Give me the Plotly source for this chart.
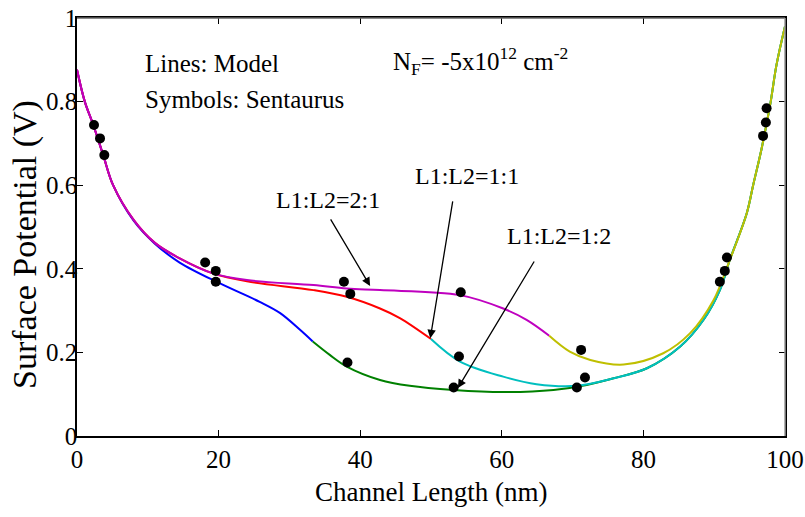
import plotly.graph_objects as go

# ---- data ----
# L1:L2 = 1:2  (blue then green)
blue_x = [0, 1.1, 2.3, 3.7, 5.1, 8.0, 11.0, 14.5, 20.2, 25.8, 28.7, 31.5, 33.3]
blue_y = [0.876, 0.80, 0.744, 0.672, 0.60, 0.515, 0.460, 0.415, 0.365, 0.321, 0.294, 0.254, 0.226]
green_x = [33.3, 35.7, 38.1, 42.8, 47.0, 53.2, 60.2, 67.3, 72.0, 75.8, 80.5, 85.2, 88.5, 90.8, 92.2, 94.6, 95.5, 96.7, 97.9, 98.8, 100]
green_y = [0.226, 0.194, 0.166, 0.134, 0.120, 0.110, 0.105, 0.110, 0.122, 0.138, 0.162, 0.214, 0.278, 0.349, 0.421, 0.533, 0.60, 0.688, 0.792, 0.888, 0.98]

# L1:L2 = 1:1  (red then cyan)
red_x = [0, 1.1, 2.3, 3.7, 5.1, 8.0, 11.0, 14.5, 19.2, 24.0, 33.4, 38.1, 42.8, 45.6, 50.0]
red_y = [0.876, 0.80, 0.744, 0.672, 0.60, 0.517, 0.462, 0.425, 0.389, 0.370, 0.349, 0.333, 0.305, 0.282, 0.232]
cyan_x = [50.0, 54.1, 60.2, 64.9, 70.6, 75.8, 80.5, 85.2, 88.5, 90.8, 92.2, 94.6, 95.5, 96.7, 97.9, 98.8, 100]
cyan_y = [0.232, 0.178, 0.142, 0.124, 0.120, 0.138, 0.162, 0.214, 0.278, 0.349, 0.421, 0.533, 0.60, 0.688, 0.792, 0.888, 0.98]

# L1:L2 = 2:1  (magenta then yellow)
mag_x = [0, 1.1, 2.3, 3.7, 5.1, 8.0, 11.0, 14.5, 19.2, 24.0, 33.4, 38.1, 42.8, 54.1, 60.2, 63.5, 66.7]
mag_y = [0.876, 0.80, 0.744, 0.672, 0.60, 0.517, 0.462, 0.425, 0.389, 0.373, 0.361, 0.353, 0.349, 0.337, 0.305, 0.278, 0.240]
yel_x = [66.7, 69.6, 72.5, 77.2, 82.8, 86.6, 89.9, 92.2, 94.6, 95.5, 96.7, 97.9, 98.8, 100]
yel_y = [0.240, 0.202, 0.182, 0.171, 0.198, 0.246, 0.325, 0.421, 0.533, 0.60, 0.688, 0.792, 0.888, 0.98]

# Sentaurus symbols
sim_x = [2.4, 3.25, 3.86, 18.1, 19.6, 19.6, 37.7, 38.6, 38.2, 54.2, 53.95, 53.2,
         71.2, 71.75, 70.6, 91.8, 91.5, 90.8, 97.4, 97.3, 96.9]
sim_y = [0.744, 0.712, 0.672, 0.415, 0.395, 0.369, 0.369, 0.340, 0.176, 0.344, 0.190, 0.116,
         0.206, 0.140, 0.116, 0.427, 0.395, 0.369, 0.784, 0.750, 0.718]

x_ticks = [0, 20, 40, 60, 80, 100]
y_ticks = [0, 0.2, 0.4, 0.6, 0.8, 1]

FONT = "Liberation Serif, Times New Roman, Times, serif"

fig = go.Figure()
segments = [
    (blue_x, blue_y, "rgb(0,0,255)"),
    (green_x, green_y, "rgb(0,128,0)"),
    (red_x, red_y, "rgb(255,0,0)"),
    (cyan_x, cyan_y, "rgb(0,191,191)"),
    (mag_x, mag_y, "rgb(191,0,191)"),
    (yel_x, yel_y, "rgb(191,191,0)"),
]
for sx, sy, col in segments:
    fig.add_trace(go.Scatter(x=sx, y=sy, mode="lines",
                             line=dict(color=col, width=2, shape="spline", smoothing=1.0),
                             showlegend=False, hoverinfo="skip"))

fig.add_trace(go.Scatter(x=sim_x, y=sim_y, mode="markers",
                         marker=dict(color="black", size=10, symbol="circle"),
                         showlegend=False))

annotations = [
    dict(x=9.3, y=0.892, text="Lines: Model", xanchor="left", yanchor="middle",
         showarrow=False, font=dict(size=25)),
    dict(x=9.3, y=0.804, text="Symbols: Sentaurus", xanchor="left", yanchor="middle",
         showarrow=False, font=dict(size=25)),
    dict(x=44.4, y=0.897, text="N<sub>F</sub>= -5x10<sup>12</sup> cm<sup>-2</sup>",
         xanchor="left", yanchor="middle", showarrow=False, font=dict(size=25)),
    dict(x=35.5, y=0.565, text="L1:L2=2:1", showarrow=False, font=dict(size=24)),
    dict(x=55.1, y=0.622, text="L1:L2=1:1", showarrow=False, font=dict(size=24)),
    dict(x=68.1, y=0.478, text="L1:L2=1:2", showarrow=False, font=dict(size=24)),
    dict(x=0.5, y=-0.134, xref="paper", yref="paper", text="Channel Length (nm)",
         showarrow=False, xanchor="center", yanchor="middle", font=dict(size=27)),
    dict(x=-0.0734, y=0.457, xref="paper", yref="paper", text="Surface Potential (V)",
         showarrow=False, xanchor="center", yanchor="middle", textangle=-90,
         font=dict(size=34)),
]
arrows = [
    (41.4, 0.359, 35.7, 0.522),
    (49.9, 0.234, 53.1, 0.565),
    (53.8, 0.115, 64.7, 0.421),
]
for tx, ty, ax, ay in arrows:
    annotations.append(dict(x=tx, y=ty, ax=ax, ay=ay, xref="x", yref="y",
                            axref="x", ayref="y", text="", showarrow=True,
                            arrowhead=2, arrowsize=1.3, arrowwidth=1.3,
                            arrowcolor="black"))

fig.update_layout(
    width=805, height=517,
    margin=dict(l=77, r=20, t=18, b=81, autoexpand=False),
    paper_bgcolor="white", plot_bgcolor="white",
    font=dict(family=FONT, color="black"),
    annotations=annotations,
    xaxis=dict(range=[0, 100], tickvals=x_ticks, ticktext=[str(v) for v in x_ticks],
               ticks="inside", ticklen=6, tickcolor="black", mirror="ticks",
               showline=True, linecolor="black", linewidth=1.5, showgrid=False,
               zeroline=False, tickfont=dict(size=25), automargin=False,
               ticklabelstandoff=0, ticklabeloverflow="allow"),
    yaxis=dict(range=[0, 1], tickvals=y_ticks, ticktext=["0", "0.2", "0.4", "0.6", "0.8", "1"],
               ticks="inside", ticklen=6, tickcolor="black", mirror="ticks",
               showline=True, linecolor="black", linewidth=1.5, showgrid=False,
               zeroline=False, tickfont=dict(size=25), automargin=False,
               ticklabelstandoff=-7, ticklabeloverflow="allow"),
)
# top and right frame lines are grey in the reference
fig.add_shape(type="line", xref="paper", yref="paper", x0=0, x1=1, y0=1, y1=1,
              line=dict(color="#666", width=1.5), layer="above")
fig.add_shape(type="line", xref="paper", yref="paper", x0=1, x1=1, y0=0, y1=1,
              line=dict(color="#999", width=1.5), layer="above")

# remove the default 8px page margin so the figure fills the window exactly
fig.write_html("out.html",
               config={"displayModeBar": False},
               post_script="document.body.style.margin='0';document.body.style.overflow='hidden';")
